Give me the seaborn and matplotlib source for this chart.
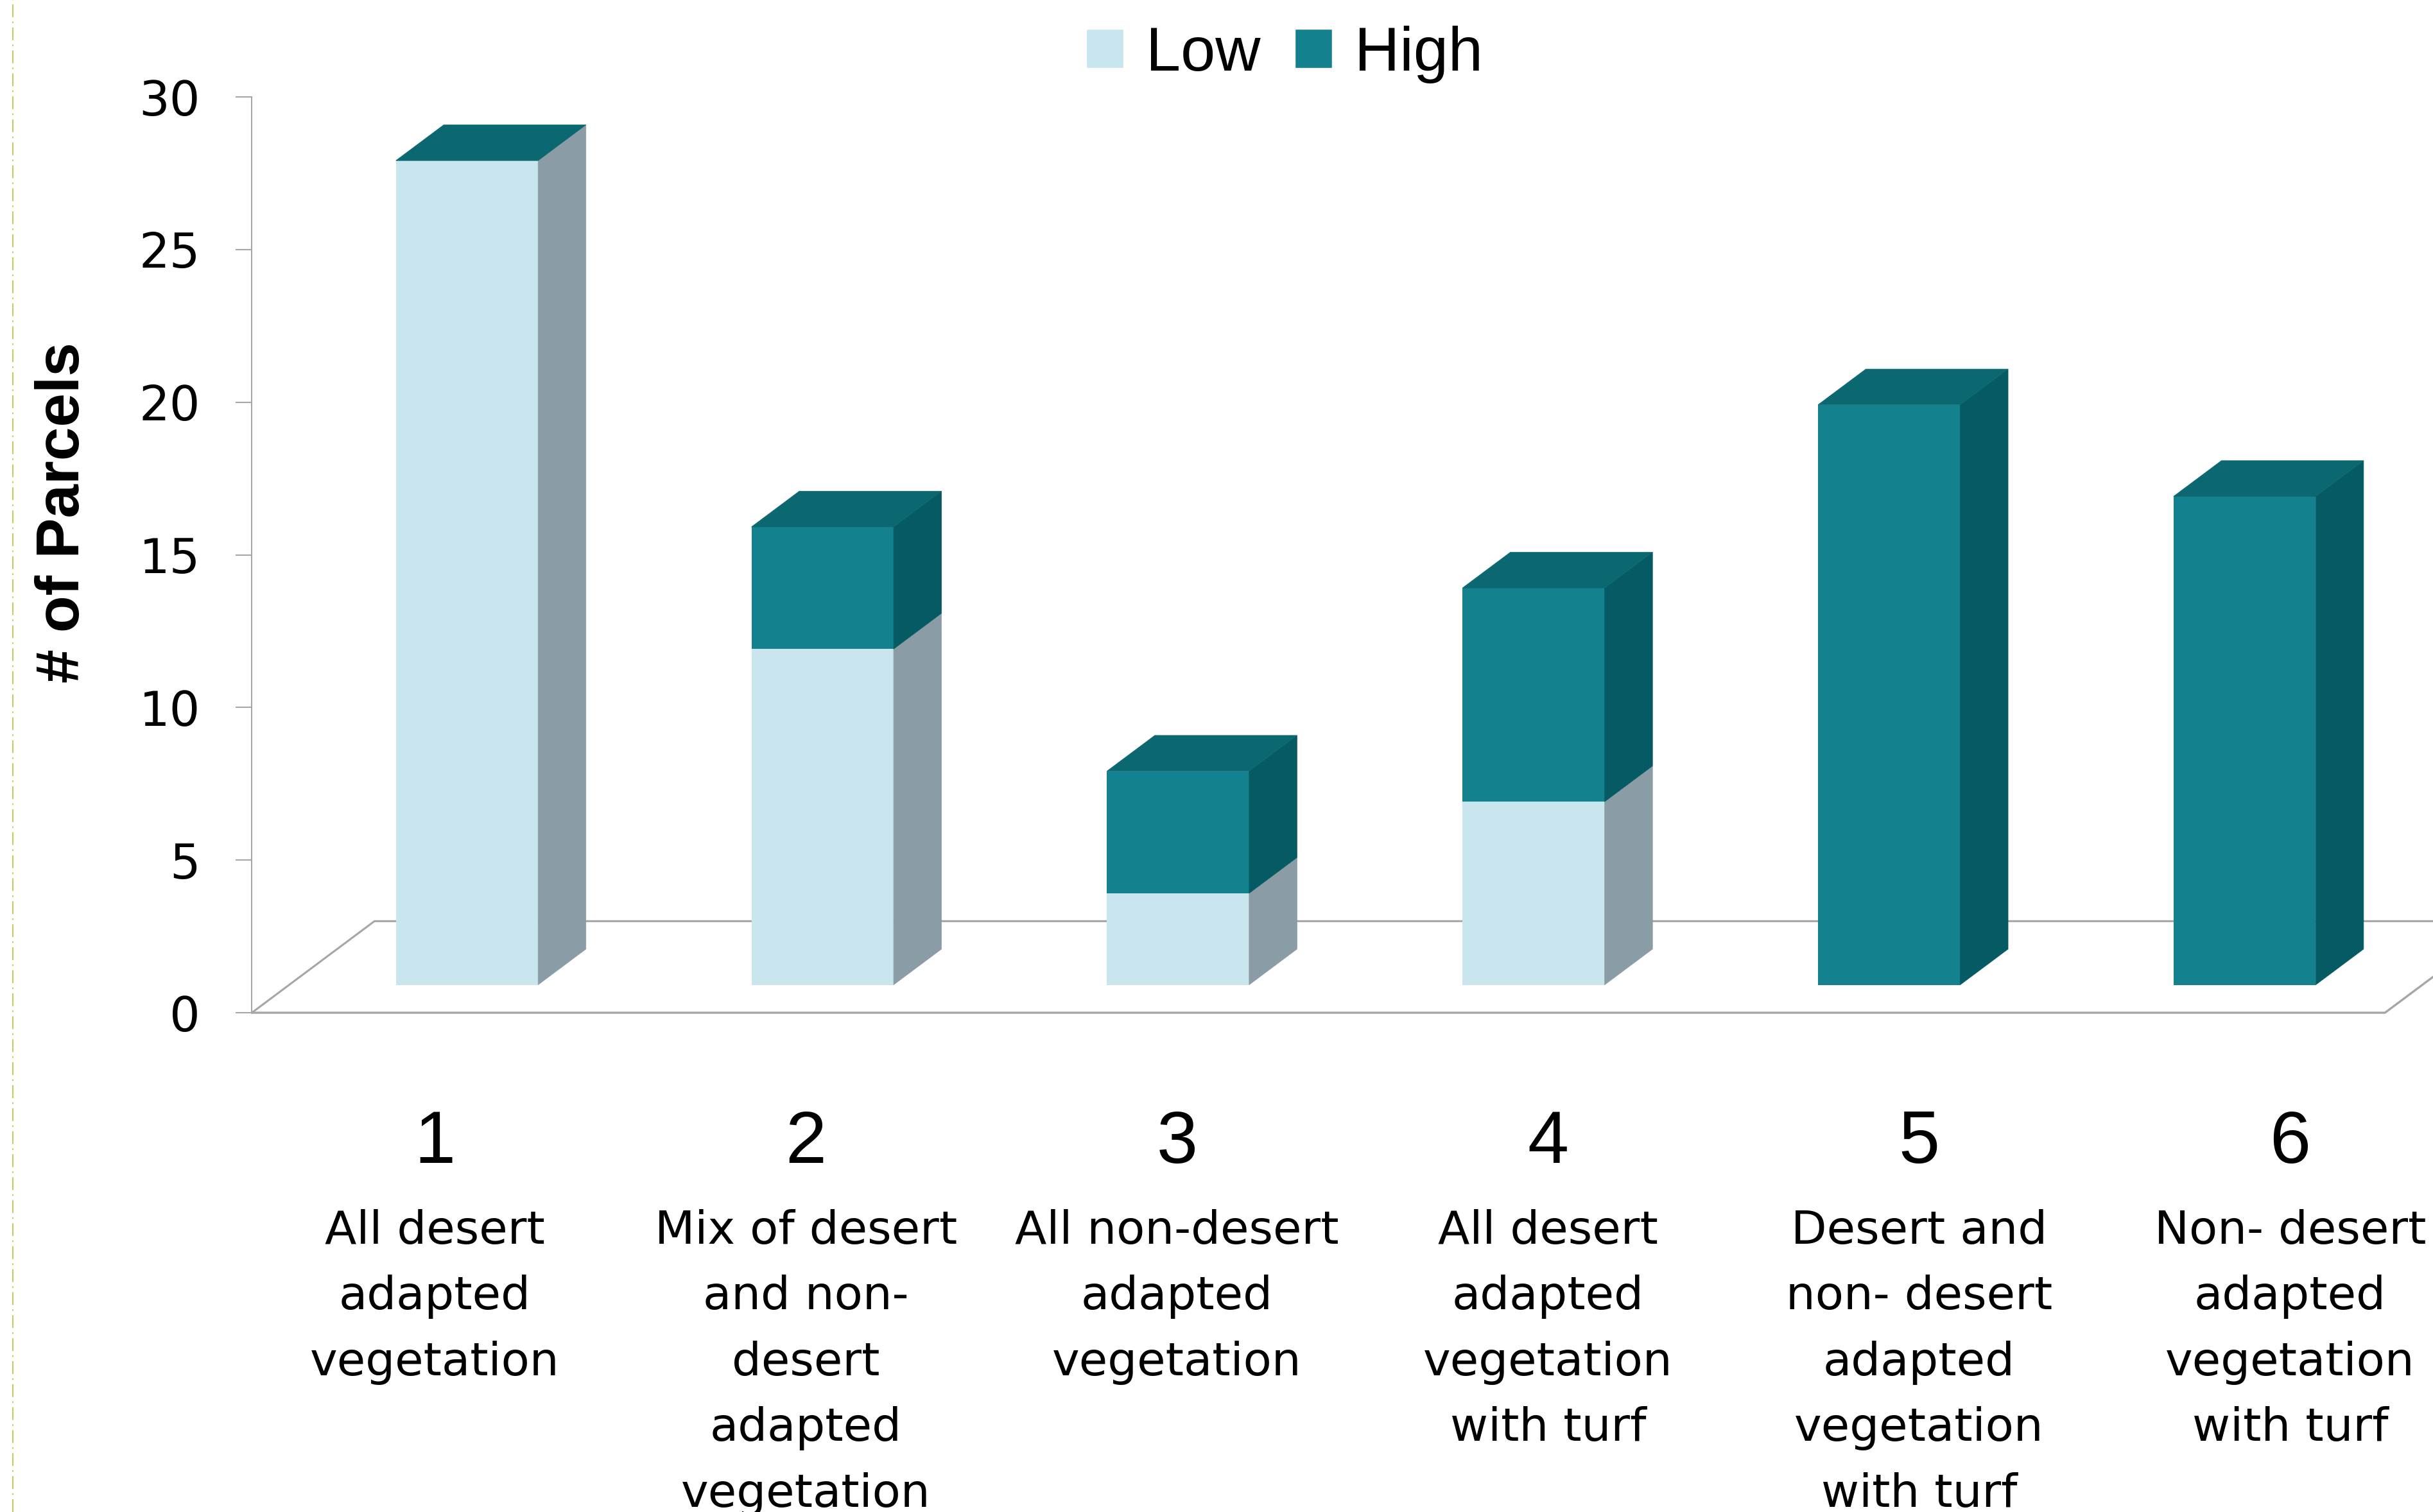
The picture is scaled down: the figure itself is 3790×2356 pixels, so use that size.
import pandas as pd
import seaborn as sns
import matplotlib.pyplot as plt
from matplotlib.patches import Polygon, Patch
from matplotlib.lines import Line2D
from matplotlib.transforms import Affine2D, blended_transform_factory

# Données
numbers = ["1", "2", "3", "4", "5", "6"]
descriptions = [
    ["All desert", "adapted", "vegetation"],
    ["Mix of desert", "and non-", "desert", "adapted", "vegetation"],
    ["All non-desert", "adapted", "vegetation"],
    ["All desert", "adapted", "vegetation", "with turf"],
    ["Desert and", "non- desert", "adapted", "vegetation", "with turf"],
    ["Non- desert", "adapted", "vegetation", "with turf"],
]
low = [27, 11, 3, 6, 0, 0]
high = [0, 4, 4, 7, 19, 16]
series = ["Low", "High"]
y_ticks = [0, 5, 10, 15, 20, 25, 30]

# Couleurs
LOW_FRONT = "#C9E6EF"
LOW_SIDE = "#8A9CA5"
HIGH_FRONT = "#13818E"
HIGH_SIDE = "#055A63"
HIGH_TOP = "#0B6870"
AXIS = "#A6A6A6"
BORDER = "#A8CB3A"

# Géométrie de la pseudo-3D (profondeur du sol en unités de données)
depth_x, depth_y = 0.345, 3.0
front, thick = 0.305, 0.39
ox, oy = depth_x * front, depth_y * front
sx, sy = depth_x * thick, depth_y * thick

sns.set_style("white")
plt.rcParams["text.color"] = "black"

fig = plt.figure(figsize=(37.9, 23.56), dpi=100)
ax = fig.add_axes([0.1035, 0.3302, 1 - 0.1035, 0.9359 - 0.3302])

df = pd.DataFrame({"cat": numbers, "Low": low, "High": high})
df["Total"] = df["Low"] + df["High"]

# Faces avant : total (High) puis Low par-dessus
sns.barplot(data=df, x="cat", y="Total", color=HIGH_FRONT, saturation=1,
            width=0.4, linewidth=0, errorbar=None, ax=ax)
sns.barplot(data=df, x="cat", y="Low", color=LOW_FRONT, saturation=1,
            width=0.4, linewidth=0, errorbar=None, ax=ax)

shift = Affine2D().translate(ox, oy) + ax.transData
for p in ax.patches:
    p.set_transform(shift)
    p.set_zorder(3)

tot_bars = ax.containers[0].patches
low_bars = ax.containers[1].patches


def side(x, b, t, c):
    return Polygon([(x, b), (x + sx, b + sy), (x + sx, t + sy), (x, t)],
                   closed=True, fc=c, ec=c, lw=0.5, transform=shift, zorder=3)


for pt, pl in zip(tot_bars, low_bars):
    x0, w = pt.get_x(), pt.get_width()
    top, lo = pt.get_height(), pl.get_height()
    xr = x0 + w
    if lo > 0:
        ax.add_patch(side(xr, 0, lo, LOW_SIDE))
    if top > lo:
        ax.add_patch(side(xr, lo, top, HIGH_SIDE))
    ax.add_patch(Polygon([(x0, top), (xr, top), (xr + sx, top + sy), (x0 + sx, top + sy)],
                         closed=True, fc=HIGH_TOP, ec=HIGH_TOP, lw=0.5,
                         transform=shift, zorder=3))

# Sol
n = len(numbers)
ax.plot([-0.5, n - 0.5, n - 0.5 + depth_x], [0, 0, depth_y],
        color=AXIS, lw=2.4, zorder=1, clip_on=False)
ax.plot([-0.5, -0.5 + depth_x, n - 0.5 + depth_x], [0, depth_y, depth_y],
        color=AXIS, lw=2.2, zorder=1, clip_on=False)

ax.set_xlim(-0.5, 5.635)
ax.set_ylim(0, 30)
ax.set_yticks(y_ticks)
ax.set_xlabel("")
ax.set_ylabel("")
ax.tick_params(axis="y", left=True, length=18, width=1.5, color=AXIS,
               labelcolor="black", pad=40, labelsize=54, direction="out")
ax.tick_params(axis="x", bottom=False, labelbottom=False)
sns.despine(ax=ax, top=True, right=True, bottom=True)
ax.spines["left"].set_color(AXIS)
ax.spines["left"].set_linewidth(1.5)

# Étiquettes de catégories
trans = blended_transform_factory(ax.transData, fig.transFigure)
for i in range(n):
    lx = 0.0148 + 1.0436 * i
    ax.text(lx, 0.2309, numbers[i], ha="center", va="baseline", fontsize=83,
            family="Liberation Sans", color="black", transform=trans)
    for j, line in enumerate(descriptions[i]):
        ax.text(lx, 0.1776 - 0.0435 * j, line, ha="center", va="baseline",
                fontsize=52, color="black", transform=trans)

# Légende
handles = [Patch(fc=LOW_FRONT, label=series[0]), Patch(fc=HIGH_FRONT, label=series[1])]
fig.legend(handles=handles, loc="center", bbox_to_anchor=(0.528, 0.964), ncol=2,
           frameon=False, prop={"family": "Liberation Sans", "size": 70},
           handlelength=0.6, handleheight=0.6, handletextpad=0.36, columnspacing=0.55,
           labelcolor="black")

fig.text(0.026, 0.661, "# of Parcels", rotation=90, ha="center", va="center",
         fontsize=68, fontweight="bold", family="Liberation Sans", color="black")

# Bordure pointillée à gauche
fig.add_artist(Line2D([0.0053, 0.0053], [0, 1], transform=fig.transFigure,
                      color=BORDER, lw=1.2, dashes=(12, 4, 1.5, 4)))

fig.savefig("out.png", dpi=100)
